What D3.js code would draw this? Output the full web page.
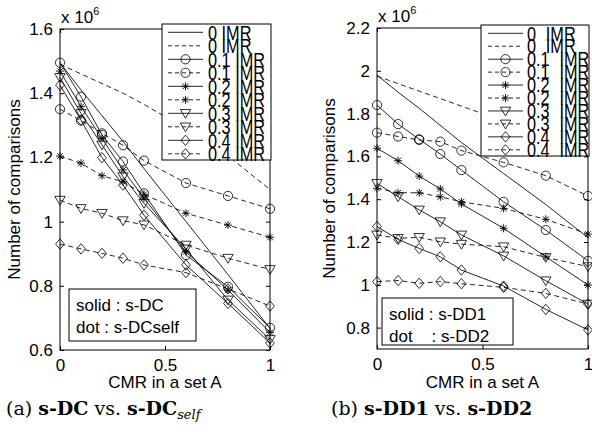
<!DOCTYPE html>
<html>
<head>
<meta charset="utf-8">
<script src="https://cdn.jsdelivr.net/npm/d3@7/dist/d3.min.js"></script>
<style>
  body { margin: 0; background: #fff; }
  svg text { font-family: "Liberation Sans", Arial, sans-serif; fill: #000; }
</style>
</head>
<body>
<div id="chart"></div>
<script>
// CMR values on the x axis (same for both panels)
var cmr = [0, 0.1, 0.2, 0.3, 0.4, 0.6, 0.8, 1];

// legend labels, one per series, in drawing order
var imrLabels = ["0 IMR", "0 IMR", "0.1 IMR", "0.1 IMR", "0.2 IMR", "0.2 IMR",
                 "0.3 IMR", "0.3 IMR", "0.4 IMR", "0.4 IMR"];
var markerKinds = ["none", "none", "circle", "circle", "star", "star",
                   "tri", "tri", "diamond", "diamond"];
var dashedFlags = [false, true, false, true, false, true, false, true, false, true];

// (a) s-DC (solid) vs s-DCself (dot), values x 10^6
var dcImr0 = [1.495, 1.41, 1.33, 1.25, 1.165, 1.0, 0.835, 0.667];
var dcSelfImr0 = [1.49, 1.46, 1.43, 1.40, 1.365, 1.29, 1.205, 1.10];
var dcImr1 = [1.495, 1.389, 1.27, 1.187, 1.088, 0.896, 0.797, 0.669];
var dcSelfImr1 = [1.35, 1.315, 1.275, 1.238, 1.19, 1.12, 1.08, 1.04];
var dcImr2 = [1.469, 1.358, 1.259, 1.161, 1.073, 0.906, 0.787, 0.655];
var dcSelfImr2 = [1.204, 1.182, 1.143, 1.124, 1.085, 1.026, 0.989, 0.951];
var dcImr3 = [1.449, 1.337, 1.239, 1.14, 1.057, 0.915, 0.756, 0.633];
var dcSelfImr3 = [1.067, 1.041, 1.026, 1.003, 0.99, 0.927, 0.886, 0.851];
var dcImr4 = [1.425, 1.316, 1.199, 1.114, 1.02, 0.865, 0.745, 0.622];
var dcSelfImr4 = [0.93, 0.915, 0.901, 0.886, 0.865, 0.841, 0.79, 0.737];

// (b) s-DD1 (solid) vs s-DD2 (dot), values x 10^6
var dd1Imr0 = [1.98, 1.90, 1.825, 1.745, 1.665, 1.52, 1.375, 1.22];
var dd2Imr0 = [1.975, 1.94, 1.905, 1.87, 1.835, 1.765, 1.69, 1.62];
var dd1Imr1 = [1.84, 1.751, 1.68, 1.611, 1.536, 1.388, 1.256, 1.112];
var dd2Imr1 = [1.711, 1.693, 1.677, 1.669, 1.627, 1.572, 1.51, 1.415];
var dd1Imr2 = [1.638, 1.58, 1.508, 1.448, 1.378, 1.264, 1.131, 0.999];
var dd2Imr2 = [1.451, 1.43, 1.43, 1.411, 1.388, 1.357, 1.306, 1.237];
var dd1Imr3 = [1.474, 1.412, 1.35, 1.295, 1.233, 1.135, 1.019, 0.91];
var dd2Imr3 = [1.233, 1.217, 1.222, 1.201, 1.19, 1.178, 1.128, 1.085];
var dd1Imr4 = [1.272, 1.212, 1.17, 1.131, 1.069, 0.994, 0.885, 0.789];
var dd2Imr4 = [1.015, 1.02, 1.007, 1.015, 1.005, 0.988, 0.96, 0.91];

var xTicks = [0, 0.5, 1];
var yTicksA = [0.6, 0.8, 1, 1.2, 1.4, 1.6];
var yTicksB = [0.8, 1, 1.2, 1.4, 1.6, 1.8, 2, 2.2];

var panels = [
  {
    left: 60, right: 270, top: 29, bottom: 350,
    yDomain: [0.6, 1.6], yTicks: yTicksA,
    series: [dcImr0, dcSelfImr0, dcImr1, dcSelfImr1, dcImr2, dcSelfImr2,
             dcImr3, dcSelfImr3, dcImr4, dcSelfImr4],
    legend: { x: 162, y: 24, w: 109, h: 136, lineX1: 168, lineX2: 203, textX: 208, wordGap: 0 },
    note: { x: 69, y: 289, w: 127, h: 52, lines: ["solid : s-DC", "dot : s-DCself"] },
    yLabelX: 14,
    caption: [["(a) ", "n"], ["s-DC", "b"], [" vs. ", "n"], ["s-DC", "b"], ["self", "sub"]],
    captionX: 6
  },
  {
    left: 377, right: 588, top: 28, bottom: 349,
    yDomain: [0.7, 2.2], yTicks: yTicksB,
    series: [dd1Imr0, dd2Imr0, dd1Imr1, dd2Imr1, dd1Imr2, dd2Imr2,
             dd1Imr3, dd2Imr3, dd1Imr4, dd2Imr4],
    legend: { x: 481, y: 25, w: 108, h: 131, lineX1: 488, lineX2: 523, textX: 527, wordGap: 6 },
    note: { x: 382, y: 298, w: 131, h: 47, lines: ["solid : s-DD1", "dot    : s-DD2"] },
    yLabelX: 329,
    caption: [["(b) ", "n"], ["s-DD1", "b"], [" vs. ", "n"], ["s-DD2", "b"]],
    captionX: 331
  }
];

var svg = d3.select("#chart").append("svg")
  .attr("width", 592).attr("height", 432)
  .style("background", "#fff");

function drawMarker(g, kind) {
  if (kind == "circle") {
    g.append("circle").attr("r", 4.6).attr("fill", "none").attr("stroke", "#000").attr("stroke-width", 0.8);
  } else if (kind == "star") {
    g.append("path").attr("d", "M-4,0H4M0,-4V4M-2.9,-2.9L2.9,2.9M-2.9,2.9L2.9,-2.9")
      .attr("stroke", "#000").attr("stroke-width", 0.9).attr("fill", "none");
  } else if (kind == "tri") {
    g.append("path").attr("d", "M-5.2,-3.8L5.2,-3.8L0,5Z")
      .attr("stroke", "#000").attr("stroke-width", 0.8).attr("fill", "none");
  } else if (kind == "diamond") {
    g.append("path").attr("d", "M0,-5.2L4.4,0L0,5.2L-4.4,0Z")
      .attr("stroke", "#000").attr("stroke-width", 0.8).attr("fill", "none");
  }
}

panels.forEach(function(p) {
  var x = d3.scaleLinear().domain([0, 1]).range([p.left, p.right]);
  var y = d3.scaleLinear().domain(p.yDomain).range([p.bottom, p.top]);
  var g = svg.append("g");

  // axes box with inward ticks on all four sides
  g.append("g").attr("transform", "translate(0," + p.bottom + ")")
    .call(d3.axisBottom(x).tickValues(xTicks).tickSizeInner(-4).tickSizeOuter(0)
      .tickPadding(9).tickFormat(function(d) { return String(d); }));
  g.append("g").attr("transform", "translate(0," + p.top + ")")
    .call(d3.axisTop(x).tickValues(xTicks).tickSizeInner(-4).tickSizeOuter(0).tickFormat(""));
  g.append("g").attr("transform", "translate(" + p.left + ",0)")
    .call(d3.axisLeft(y).tickValues(p.yTicks).tickSizeInner(-4).tickSizeOuter(0)
      .tickPadding(7).tickFormat(function(d) { return String(d); }));
  g.append("g").attr("transform", "translate(" + p.right + ",0)")
    .call(d3.axisRight(y).tickValues(p.yTicks).tickSizeInner(-4).tickSizeOuter(0).tickFormat(""));
  g.selectAll(".domain").remove();
  g.selectAll(".tick line").attr("stroke", "#000");
  g.selectAll(".tick text").style("font-size", "17px").attr("font-family", null);

  // data lines
  var line = d3.line().x(function(d, i) { return x(cmr[i]); }).y(function(d) { return y(d); });
  p.series.forEach(function(vals, k) {
    g.append("path").datum(vals).attr("d", line)
      .attr("fill", "none").attr("stroke", "#000").attr("stroke-width", 0.85)
      .attr("stroke-dasharray", dashedFlags[k] ? "5,3.5" : null);
    if (markerKinds[k] != "none") {
      vals.forEach(function(v, i) {
        var mg = g.append("g").attr("transform", "translate(" + x(cmr[i]) + "," + y(v) + ")");
        drawMarker(mg, markerKinds[k]);
      });
    }
  });

  g.append("rect").attr("x", p.left).attr("y", p.top)
    .attr("width", p.right - p.left).attr("height", p.bottom - p.top)
    .attr("fill", "none").attr("stroke", "#000").attr("stroke-width", 1);

  // exponent label
  var ex = g.append("text").attr("x", p.left + 1).attr("y", p.top - 6).style("font-size", "17px");
  ex.append("tspan").text("x 10");
  ex.append("tspan").attr("dy", -8).style("font-size", "11px").text("6");

  // axis labels
  g.append("text").attr("x", (p.left + p.right) / 2).attr("y", 388)
    .attr("text-anchor", "middle").style("font-size", "17px").text("CMR in a set A");
  g.append("text")
    .attr("transform", "translate(" + (p.yLabelX + 6) + "," + ((p.top + p.bottom) / 2) + ") rotate(-90)")
    .attr("text-anchor", "middle").style("font-size", "17px").text("Number of comparisons");

  // legend
  var L = p.legend;
  var lg = g.append("g");
  lg.append("rect").attr("x", L.x).attr("y", L.y).attr("width", L.w).attr("height", L.h)
    .attr("fill", "#fff").attr("stroke", "#000").attr("stroke-width", 1);
  var rowH = (L.h - 14.5) / 9;
  imrLabels.forEach(function(lbl, k) {
    var cy = L.y + 8.3 + rowH * k;
    lg.append("line").attr("x1", L.lineX1).attr("x2", L.lineX2).attr("y1", cy).attr("y2", cy)
      .attr("stroke", "#000").attr("stroke-width", 0.85)
      .attr("stroke-dasharray", dashedFlags[k] ? "4,3" : null);
    if (markerKinds[k] != "none") {
      drawMarker(lg.append("g").attr("transform", "translate(" + ((L.lineX1 + L.lineX2) / 2) + "," + cy + ")"), markerKinds[k]);
    }
    lg.append("text").attr("transform", "translate(" + L.textX + "," + (cy + 7.2) + ") scale(0.88,1.12)")
      .style("font-size", "18.5px").style("word-spacing", L.wordGap + "px").text(lbl);
  });

  // note box
  var N = p.note;
  g.append("rect").attr("x", N.x).attr("y", N.y).attr("width", N.w).attr("height", N.h)
    .attr("fill", "#fff").attr("stroke", "#000").attr("stroke-width", 1);
  N.lines.forEach(function(t, i) {
    g.append("text").attr("x", N.x + 7).attr("y", N.y + 22 + i * 21.5)
      .attr("xml:space", "preserve").style("white-space", "pre")
      .style("font-size", "17px").text(t);
  });

  // caption
  var cap = g.append("text").attr("x", p.captionX).attr("y", 415)
    .style("font-family", "'DejaVu Serif', serif").style("font-size", "19px")
    .attr("xml:space", "preserve").style("white-space", "pre");
  p.caption.forEach(function(part) {
    var ts = cap.append("tspan").text(part[0]);
    if (part[1] == "b") ts.style("font-weight", "bold");
    if (part[1] == "sub") ts.style("font-style", "italic").style("font-size", "13px").attr("dy", 4);
  });
});
</script>
</body>
</html>
